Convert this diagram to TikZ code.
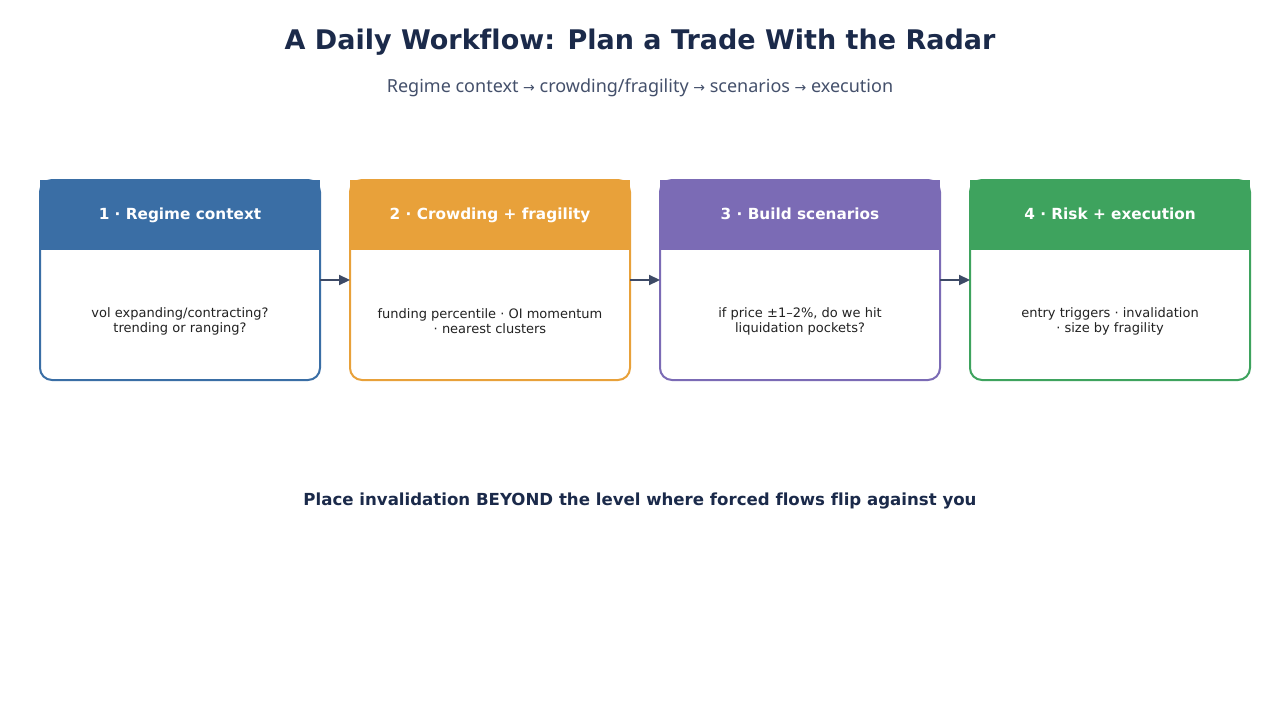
\documentclass[tikz,border=0pt]{standalone}
\usepackage{fontspec}
\setmainfont{DejaVu Sans}[Ligatures={NoCommon}]
\newfontfamily\subfont{Noto Sans}
\newfontfamily\arrowfont{DejaVu Sans}
\usetikzlibrary{arrows.meta}
\definecolor{cblue}{HTML}{3A6EA5}
\definecolor{corange}{HTML}{E8A13A}
\definecolor{cpurple}{HTML}{7B6BB5}
\definecolor{cgreen}{HTML}{3EA35E}
\definecolor{ctitle}{HTML}{1B2A4A}
\definecolor{csub}{HTML}{44506B}
\definecolor{carrow}{HTML}{3D4A66}
\definecolor{cbody}{HTML}{222222}
\newcommand{\rarr}{{\arrowfont\fontsize{14}{17}\selectfont →}}
\tikzset{
  titletext/.style={font=\bfseries\fontsize{27}{32}\selectfont, text=ctitle},
  subtext/.style={font=\subfont\fontsize{18}{21}\selectfont, text=csub},
  headtext/.style={font=\bfseries\fontsize{15.3}{18}\selectfont, text=white, anchor=base},
  bodytext/.style={font=\fontsize{13}{15}\selectfont, text=cbody, align=center},
  foottext/.style={font=\bfseries\fontsize{16.6}{20}\selectfont, text=ctitle},
  flow/.style={draw=carrow, line width=2.2pt, -{Triangle[length=11pt,width=10pt]}},
}
\newcommand{\stepcard}[6]{% name, x, color, head, line1, line2
  \fill[#3] (#2,180) rectangle ++(280,70);
  \draw[#3, line width=2pt, rounded corners=12pt] (#2,180) rectangle ++(280,200);
  \node[headtext] (#1h) at ({#2+140},219.5) {#4};
  \node[bodytext] (#1b) at ({#2+140},321) {#5\\#6};
  \coordinate (#1w) at (#2,280);
  \coordinate (#1e) at ({#2+280},280);
}
\begin{document}
\begin{tikzpicture}[x=1pt,y=-1pt]
\useasboundingbox[fill=white] (0,0) rectangle (1280,720);
\node[titletext] (title) at (640,42.5) {A Daily Workflow: Plan a Trade With the Radar};
\node[subtext] (sub) at (640,88) {Regime context \rarr{} crowding/fragility \rarr{} scenarios \rarr{} execution};
\stepcard{s1}{40}{cblue}{1 · Regime context}{vol expanding/contracting?}{trending or ranging?}
\stepcard{s2}{350}{corange}{2 · Crowding + fragility}{funding percentile · OI momentum}{· nearest clusters}
\stepcard{s3}{660}{cpurple}{3 · Build scenarios}{if price ±1–2\%, do we hit}{liquidation pockets?}
\stepcard{s4}{970}{cgreen}{4 · Risk + execution}{entry triggers · invalidation}{· size by fragility}
\draw[flow] (s1e) -- (s2w);
\draw[flow] (s2e) -- (s3w);
\draw[flow] (s3e) -- (s4w);
\node[foottext] (foot) at (640,501) {Place invalidation BEYOND the level where forced flows flip against you};
\end{tikzpicture}
\end{document}
